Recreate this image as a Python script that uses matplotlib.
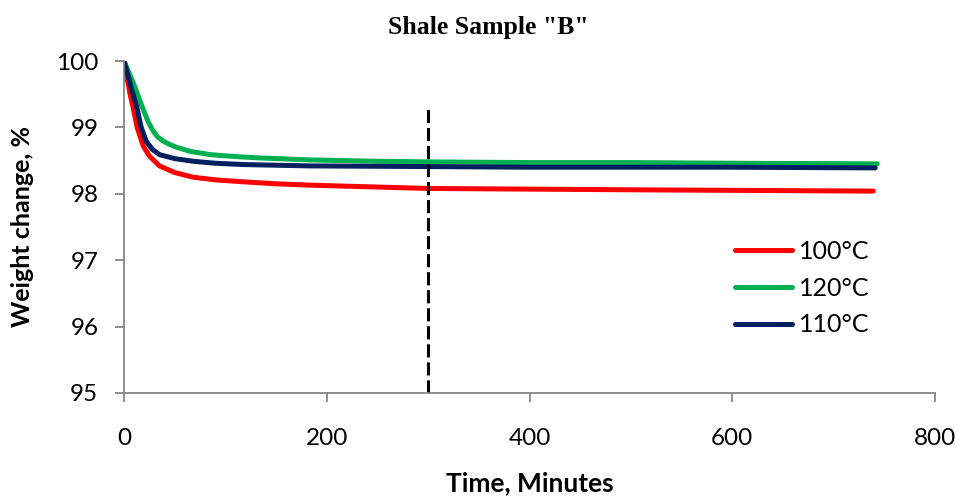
import matplotlib
matplotlib.use("Agg")
import matplotlib.pyplot as plt

t_100 = [0, 3, 6, 9, 13, 19, 25, 35, 50, 68, 90, 118, 150, 183, 230, 300, 400, 500, 620, 739]
w_100 = [100, 99.75, 99.5, 99.3, 99.0, 98.72, 98.57, 98.42, 98.32, 98.25, 98.21, 98.18,
         98.15, 98.13, 98.11, 98.08, 98.07, 98.06, 98.05, 98.04]

t_120 = [0, 5, 10, 15, 19, 24, 28.6, 33, 38, 44, 52, 65, 85, 110, 134, 183, 250, 300, 400, 500, 600, 743]
w_120 = [100, 99.82, 99.64, 99.43, 99.27, 99.08, 98.95, 98.86, 98.80, 98.75, 98.70, 98.64,
         98.59, 98.56, 98.54, 98.51, 98.49, 98.48, 98.47, 98.47, 98.46, 98.45]

t_110 = [0, 4, 8, 12.5, 17, 22, 28, 35, 50, 68, 90, 118, 183, 300, 400, 600, 741]
w_110 = [100, 99.78, 99.55, 99.32, 99.0, 98.79, 98.67, 98.59, 98.53, 98.49, 98.46, 98.44,
         98.42, 98.41, 98.40, 98.40, 98.39]

marker_time = 300
marker_top = 99.3

x_ticks = [0, 200, 400, 600, 800]
y_ticks = [95, 96, 97, 98, 99, 100]

plt.rcParams['font.family'] = ['Lato', 'DejaVu Sans']

fig = plt.figure(figsize=(9.61, 4.98), dpi=100)
ax = fig.add_axes([0.129, 0.211, 0.844, 0.6665])

ax.plot(t_100, w_100, color='#FF0000', lw=3.6, label='100°C', solid_capstyle='round')
ax.plot(t_120, w_120, color='#00B050', lw=3.6, label='120°C', solid_capstyle='round')
ax.plot(t_110, w_110, color='#002060', lw=3.6, label='110°C', solid_capstyle='round')
ax.plot([marker_time, marker_time], [95, marker_top], color='black', lw=2.2,
        dashes=(4.3, 1.6))

ax.set_xlim(0, 800)
ax.set_ylim(95, 100)
ax.set_xticks(x_ticks)
ax.set_yticks(y_ticks)

for side in ['top', 'right']:
    ax.spines[side].set_visible(False)
for side in ['left', 'bottom']:
    ax.spines[side].set_color('#868686')
    ax.spines[side].set_linewidth(1.3)

ax.tick_params(axis='both', colors='#868686', labelcolor='black', labelsize=17.5,
               length=6.5, width=1.3, direction='out')
ax.tick_params(axis='x', pad=19)
ax.tick_params(axis='y', pad=12)

ax.set_xlabel('Time, Minutes', fontsize=19, fontweight='bold', labelpad=16)
ax.set_ylabel('Weight change, %', fontsize=18, fontweight='bold', labelpad=16)

fig.text(0.508, 0.945, 'Shale Sample "B"', family='Liberation Serif',
         fontweight='bold', fontsize=18.5, ha='center', va='center')

ax.legend(loc='center left', bbox_to_anchor=(0.753, 0.316), frameon=False,
          fontsize=18, handlelength=2.3, handletextpad=0.25, labelspacing=0.55,
          borderpad=0, borderaxespad=0)

fig.savefig('out.png', dpi=100)
